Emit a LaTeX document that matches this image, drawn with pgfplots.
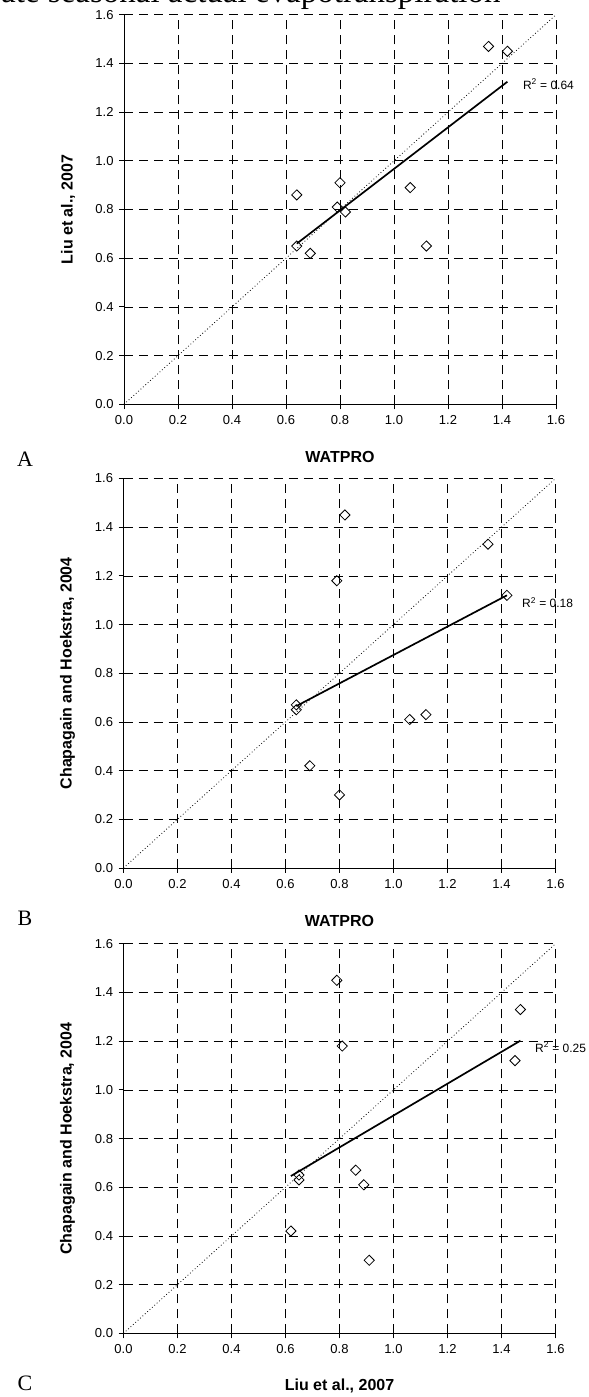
\documentclass[border=0pt]{standalone}
\usepackage{fontspec}
\setmainfont{Liberation Sans}
\newfontfamily\seriffont{Liberation Serif}
\usepackage{pgfplots}
\pgfplotsset{compat=1.18}

\pgfplotsset{
  panel/.style={
    width=432bp, height=389.5bp, scale only axis,
    xmin=0, xmax=1.6, ymin=0, ymax=1.6,
    xtick={0,0.2,0.4,0.6,0.8,1.0,1.2,1.4,1.6},
    ytick={0,0.2,0.4,0.6,0.8,1.0,1.2,1.4,1.6},
    axis x line*=bottom, axis y line*=left,
    axis line style={black, line width=0.8bp, -},
    tick align=outside, major tick length=5bp,
    tick style={black, line width=0.8bp},
    grid=major,
    major grid style={black, line width=0.7bp, dash pattern=on 9bp off 6bp},
    tick label style={font=\fontsize{13bp}{15bp}\selectfont},
    xticklabel style={yshift=-3bp},
    yticklabel style={xshift=-2bp},
    /pgf/number format/.cd, fixed, fixed zerofill, precision=1, assume math mode=true,
    /pgfplots/.cd,
    label style={font=\bfseries\fontsize{16bp}{18bp}\selectfont},
    xlabel style={at={(axis description cs:0.5,-0.1353)}, anchor=center},
    ylabel style={at={(axis description cs:-0.1296,0.5)}, anchor=center},
    clip=false,
  },
  oneone/.style={black, line width=0.8bp, dash pattern=on 0.8bp off 2.4bp},
  pts/.style={only marks, mark=square, mark size=3.6bp,
    mark options={rotate=45, solid, draw=black, fill=white, line width=0.8bp}},
  trend/.style={black, line width=1.7bp},
}
\tikzset{rlab/.style={anchor=west, inner sep=0, font=\fontsize{12bp}{14bp}\selectfont}}

\begin{document}
\begin{tikzpicture}[x=1bp, y=1bp]

% cut-off line of body text at the very top (only its bottom edge shows)
\node[anchor=base west, inner sep=0, font=\seriffont\fontsize{33bp}{35bp}\selectfont]
  at (1,1394) {ate seasonal actual evapotranspiration};

% A
\begin{axis}[panel, at={(124bp,992.7bp)}, anchor=south west,
  xlabel={WATPRO}, ylabel={Liu et al., 2007}]
  \addplot[oneone] coordinates {(0,0) (1.6,1.6)};
  \addplot[pts] coordinates {
    (0.64,0.86) (0.64,0.65) (0.69,0.62) (0.79,0.81) (0.80,0.91)
    (0.82,0.79) (1.06,0.89) (1.12,0.65) (1.35,1.47) (1.42,1.45)
  };
  \addplot[trend] coordinates {(0.64,0.660) (1.42,1.325)};
  \node[rlab] at (axis cs:1.477,1.315) {R\textsuperscript{2} = 0.64};
\end{axis}

% B
\begin{axis}[panel, at={(123.5bp,529bp)}, anchor=south west,
  xlabel={WATPRO}, ylabel={Chapagain and Hoekstra, 2004}]
  \addplot[oneone] coordinates {(0,0) (1.6,1.6)};
  \addplot[pts] coordinates {
    (0.64,0.67) (0.64,0.65) (0.69,0.42) (0.79,1.18) (0.80,0.30)
    (0.82,1.45) (1.06,0.61) (1.12,0.63) (1.35,1.33) (1.42,1.12)
  };
  \addplot[trend] coordinates {(0.64,0.665) (1.42,1.120)};
  \node[rlab] at (axis cs:1.476,1.09) {R\textsuperscript{2} = 0.18};
\end{axis}

% C
\begin{axis}[panel, at={(123.5bp,63.7bp)}, anchor=south west,
  xlabel={Liu et al., 2007}, ylabel={Chapagain and Hoekstra, 2004}]
  \addplot[oneone] coordinates {(0,0) (1.6,1.6)};
  \addplot[pts] coordinates {
    (0.86,0.67) (0.65,0.65) (0.62,0.42) (0.81,1.18) (0.91,0.30)
    (0.79,1.45) (0.89,0.61) (0.65,0.63) (1.47,1.33) (1.45,1.12)
  };
  \addplot[trend] coordinates {(0.62,0.646) (1.47,1.202)};
  \node[rlab] at (axis cs:1.524,1.176) {R\textsuperscript{2} = 0.25};
\end{axis}

% panel letters
\node[font=\seriffont\fontsize{22bp}{24bp}\selectfont] at (25,938) {A};
\node[font=\seriffont\fontsize{22bp}{24bp}\selectfont] at (25,479) {B};
\node[font=\seriffont\fontsize{22bp}{24bp}\selectfont] at (25,14) {C};

\pgfresetboundingbox
\useasboundingbox (0,0) rectangle (589,1397);
\end{tikzpicture}
\end{document}
